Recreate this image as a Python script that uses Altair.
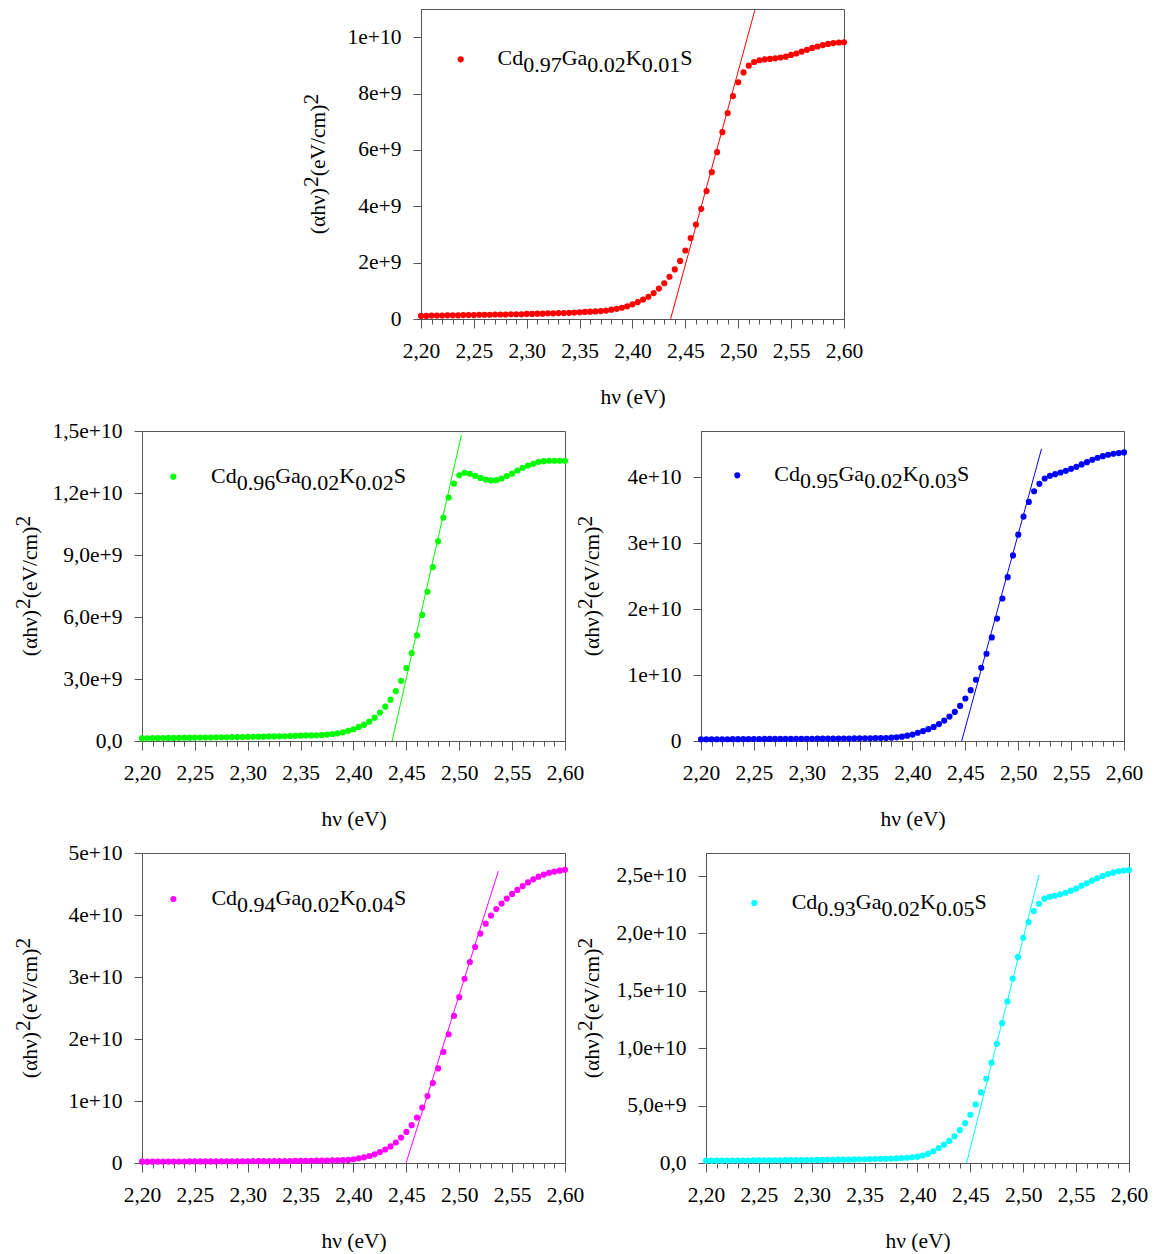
import json
import altair as alt
import pandas as pd

# ---------------- data ----------------
HV = [2.200, 2.205, 2.210, 2.215, 2.220, 2.225, 2.230, 2.235, 2.240, 2.245,
      2.250, 2.255, 2.260, 2.265, 2.270, 2.275, 2.280, 2.285, 2.290, 2.295,
      2.300, 2.305, 2.310, 2.315, 2.320, 2.325, 2.330, 2.335, 2.340, 2.345,
      2.350, 2.355, 2.360, 2.365, 2.370, 2.375, 2.380, 2.385, 2.390, 2.395,
      2.400, 2.405, 2.410, 2.415, 2.420, 2.425, 2.430, 2.435, 2.440, 2.445,
      2.450, 2.455, 2.460, 2.465, 2.470, 2.475, 2.480, 2.485, 2.490, 2.495,
      2.500, 2.505, 2.510, 2.515, 2.520, 2.525, 2.530, 2.535, 2.540, 2.545,
      2.550, 2.555, 2.560, 2.565, 2.570, 2.575, 2.580, 2.585, 2.590, 2.595,
      2.600]

# (alpha h nu)^2 in units of 1e10 (eV/cm)^2
Y1 = [0.011, 0.011, 0.012, 0.012, 0.012, 0.013, 0.013, 0.013, 0.014, 0.014,
      0.014, 0.015, 0.015, 0.015, 0.016, 0.016, 0.016, 0.017, 0.017, 0.017,
      0.018, 0.018, 0.019, 0.019, 0.020, 0.020, 0.021, 0.021, 0.022, 0.023,
      0.024, 0.025, 0.026, 0.027, 0.028, 0.030, 0.033, 0.036, 0.040, 0.045,
      0.052, 0.060, 0.069, 0.079, 0.092, 0.108, 0.127, 0.150, 0.176, 0.206,
      0.243, 0.287, 0.335, 0.391, 0.454, 0.521, 0.592, 0.663, 0.731, 0.791,
      0.840, 0.875, 0.899, 0.912, 0.918, 0.921, 0.923, 0.925, 0.928, 0.931,
      0.937, 0.942, 0.949, 0.955, 0.962, 0.967, 0.972, 0.976, 0.979, 0.981,
      0.982]
Y2 = [0.013, 0.013, 0.014, 0.014, 0.014, 0.015, 0.015, 0.015, 0.016, 0.016,
      0.016, 0.017, 0.017, 0.017, 0.018, 0.018, 0.018, 0.019, 0.019, 0.019,
      0.020, 0.020, 0.021, 0.021, 0.022, 0.022, 0.023, 0.023, 0.024, 0.025,
      0.026, 0.027, 0.027, 0.028, 0.029, 0.031, 0.034, 0.037, 0.042, 0.049,
      0.057, 0.068, 0.079, 0.094, 0.113, 0.138, 0.166, 0.200, 0.241, 0.291,
      0.353, 0.426, 0.511, 0.610, 0.722, 0.841, 0.966, 1.081, 1.178, 1.246,
      1.286, 1.298, 1.293, 1.283, 1.273, 1.265, 1.261, 1.262, 1.270, 1.282,
      1.294, 1.309, 1.322, 1.333, 1.341, 1.351, 1.354, 1.356, 1.356, 1.356,
      1.356]
Y3 = [0.025, 0.025, 0.026, 0.026, 0.027, 0.027, 0.028, 0.028, 0.029, 0.029,
      0.030, 0.030, 0.031, 0.031, 0.031, 0.032, 0.032, 0.032, 0.033, 0.033,
      0.034, 0.034, 0.035, 0.035, 0.036, 0.036, 0.037, 0.038, 0.038, 0.039,
      0.040, 0.041, 0.042, 0.043, 0.044, 0.046, 0.050, 0.056, 0.066, 0.081,
      0.097, 0.125, 0.150, 0.180, 0.214, 0.256, 0.309, 0.370, 0.441, 0.532,
      0.644, 0.771, 0.928, 1.110, 1.323, 1.571, 1.856, 2.160, 2.484, 2.814,
      3.128, 3.402, 3.625, 3.787, 3.899, 3.980, 4.020, 4.046, 4.071, 4.096,
      4.127, 4.157, 4.193, 4.228, 4.264, 4.294, 4.319, 4.340, 4.355, 4.365,
      4.375]
Y4 = [0.022, 0.022, 0.022, 0.023, 0.023, 0.023, 0.024, 0.024, 0.024, 0.025,
      0.025, 0.025, 0.026, 0.026, 0.026, 0.027, 0.027, 0.027, 0.028, 0.028,
      0.028, 0.029, 0.029, 0.030, 0.030, 0.031, 0.031, 0.032, 0.032, 0.033,
      0.034, 0.035, 0.036, 0.037, 0.038, 0.039, 0.041, 0.043, 0.046, 0.050,
      0.061, 0.075, 0.092, 0.113, 0.140, 0.178, 0.218, 0.267, 0.331, 0.410,
      0.502, 0.610, 0.733, 0.895, 1.079, 1.289, 1.526, 1.791, 2.077, 2.373,
      2.675, 2.972, 3.242, 3.484, 3.700, 3.860, 3.990, 4.095, 4.185, 4.265,
      4.340, 4.405, 4.466, 4.525, 4.575, 4.618, 4.652, 4.680, 4.700, 4.715,
      4.728]
Y5 = [0.020, 0.020, 0.020, 0.021, 0.021, 0.021, 0.022, 0.022, 0.022, 0.023,
      0.023, 0.023, 0.024, 0.024, 0.024, 0.025, 0.025, 0.025, 0.026, 0.026,
      0.026, 0.027, 0.027, 0.028, 0.028, 0.029, 0.029, 0.030, 0.031, 0.032,
      0.033, 0.034, 0.035, 0.036, 0.037, 0.038, 0.040, 0.043, 0.046, 0.050,
      0.055, 0.065, 0.080, 0.102, 0.130, 0.160, 0.192, 0.233, 0.286, 0.347,
      0.420, 0.510, 0.615, 0.734, 0.874, 1.038, 1.218, 1.407, 1.606, 1.795,
      1.961, 2.098, 2.194, 2.258, 2.302, 2.319, 2.328, 2.340, 2.354, 2.372,
      2.389, 2.415, 2.436, 2.459, 2.480, 2.500, 2.517, 2.529, 2.541, 2.547,
      2.552]
SERIES = [Y1, Y2, Y3, Y4, Y5]

# tangent (linear fit) lines: end points (hv, value in 1e10)
FIT_X = [[2.436, 2.5157], [2.4365, 2.502], [2.4465, 2.522], [2.4497, 2.537], [2.4464, 2.515]]
FIT_Y = [[0.0, 1.096], [0.0, 1.48], [0.0, 4.43], [0.0, 4.71], [0.0, 2.51]]

CD_FRAC = ["0.97", "0.96", "0.95", "0.94", "0.93"]
K_FRAC = ["0.01", "0.02", "0.03", "0.04", "0.05"]
GA_FRAC = "0.02"

Y_MAX = [1.1e10, 1.5e10, 4.7e10, 5.0e10, 2.7e10]
Y_TICKS = [
    [0, 2e9, 4e9, 6e9, 8e9, 1e10],
    [0, 3e9, 6e9, 9e9, 12e9, 15e9],
    [0, 1e10, 2e10, 3e10, 4e10],
    [0, 1e10, 2e10, 3e10, 4e10, 5e10],
    [0, 5e9, 10e9, 15e9, 20e9, 25e9],
]
Y_LABELS = [
    ["0", "2e+9", "4e+9", "6e+9", "8e+9", "1e+10"],
    ["0,0", "3,0e+9", "6,0e+9", "9,0e+9", "1,2e+10", "1,5e+10"],
    ["0", "1e+10", "2e+10", "3e+10", "4e+10"],
    ["0", "1e+10", "2e+10", "3e+10", "4e+10", "5e+10"],
    ["0,0", "5,0e+9", "1,0e+10", "1,5e+10", "2,0e+10", "2,5e+10"],
]
X_MAJOR = [2.20, 2.25, 2.30, 2.35, 2.40, 2.45, 2.50, 2.55, 2.60]
X_MINOR = HV[::2]
X_TITLE = "hν (eV)"
Y_TITLE_PIECES = [("(αhν)", 0), ("2", 1), ("(eV/cm)", 0), ("2", 1)]  # 1 = superscript

COLORS = ["#ff0000", "#00ff00", "#0000ff", "#ff00ff", "#00ffff"]

# ---------------- layout / style ----------------
W, H = 423, 310
FONT = "Liberation Serif"
FS = 21.5
LFS = 22
DOT = 38
YTITLE_D = [102, 111, 108, 111, 113]
LEGEND = [  # dot x, dot y, text start x, text baseline y  (pixels inside plot)
    (39.7, 50.3, 76.5, 55.5),
    (31.3, 45.7, 69.0, 51.5),
    (36.3, 44.3, 73.3, 50.0),
    (31.4, 46.0, 69.4, 52.0),
    (48.3, 50.0, 85.7, 56.0),
]
CHAR_W = {"C": 0.667, "d": 0.5, "G": 0.722, "a": 0.444, "K": 0.722, "S": 0.556, ".": 0.25,
          "(": 0.333, ")": 0.333, "α": 0.53, "h": 0.5, "ν": 0.5, "e": 0.444, "V": 0.722,
          "/": 0.278, "c": 0.444, "m": 0.778}
for ch in "0123456789":
    CHAR_W[ch] = 0.5


def tw(s, fs):
    return sum(CHAR_W[ch] for ch in s) * fs


ONE = pd.DataFrame({"k": [0]})


def legend_layers(i):
    dx, dy, tx, tb = LEGEND[i]
    c = COLORS[i]
    layers = [alt.Chart(ONE).mark_circle(size=DOT, opacity=1, color=c).encode(
        x=alt.value(dx), y=alt.value(dy))]
    pieces = [("Cd", 0), (CD_FRAC[i], 1), ("Ga", 0), (GA_FRAC, 1), ("K", 0), (K_FRAC[i], 1), ("S", 0)]
    x = tx
    for txt, sub in pieces:
        layers.append(alt.Chart(ONE).mark_text(
            align="left", baseline="alphabetic", font=FONT, fontSize=LFS, color="black"
        ).encode(x=alt.value(x), y=alt.value(tb + 7 * sub), text=alt.value(txt)))
        x += tw(txt, LFS)
    return layers


def ytitle_layers(i):
    total = sum(tw(t, FS) for t, _ in Y_TITLE_PIECES)
    y = H / 2 + total / 2
    layers = []
    for txt, sup in Y_TITLE_PIECES:
        layers.append(alt.Chart(ONE).mark_text(
            align="left", baseline="middle", angle=270, font=FONT, fontSize=FS, color="black"
        ).encode(x=alt.value(-YTITLE_D[i] - 7 * sup), y=alt.value(y), text=alt.value(txt)))
        y -= tw(txt, FS)
    return layers


def panel(i):
    c = COLORS[i]
    df = pd.DataFrame({"hv": HV, "val": [v * 1e10 for v in SERIES[i]]})
    fit = pd.DataFrame({"hv": FIT_X[i], "val": [v * 1e10 for v in FIT_Y[i]]})
    xs = alt.Scale(domain=[2.2, 2.6], nice=False, zero=False)
    ys = alt.Scale(domain=[0, Y_MAX[i]], nice=False, zero=True)
    lab_expr = "%s[indexof(%s, datum.value)]" % (json.dumps(Y_LABELS[i]), json.dumps(Y_TICKS[i]))
    yaxis = alt.Axis(values=Y_TICKS[i], labelExpr=lab_expr, title="",
                     tickSize=8, labelPadding=12, labelFlush=False,
                     labelOverlap=False, grid=False)
    xmajor = alt.Axis(values=X_MAJOR, labelExpr="replace(format(datum.value, '.2f'), '.', ',')",
                      title=X_TITLE, titleX=W / 2, titleY=78, titleBaseline="middle",
                      titleAlign="center", tickSize=9, labelPadding=12, labelFlush=False,
                      labelOverlap=False, labelAngle=0, orient="bottom", grid=False)
    xminor = alt.Axis(values=X_MINOR, labels=False, title="", tickSize=5, domain=False,
                      orient="bottom", grid=False)
    pts = alt.Chart(df).mark_circle(size=DOT, opacity=1, color=c).encode(
        x=alt.X("hv:Q", scale=xs, axis=xmajor),
        y=alt.Y("val:Q", scale=ys, axis=yaxis))
    line = alt.Chart(fit).mark_line(color=c, strokeWidth=1, strokeJoin="round").encode(
        x=alt.X("hv:Q", scale=xs, axis=xminor),
        y=alt.Y("val:Q", scale=ys, axis=yaxis))
    return alt.layer(pts, line, *legend_layers(i), *ytitle_layers(i)).resolve_axis(
        x="independent").properties(width=W, height=H)


spacer = alt.Chart(ONE).mark_point(opacity=0, size=1).encode(
    x=alt.value(5), y=alt.value(5)).properties(
    width=259, height=10, view=alt.ViewBackground(stroke="transparent"))

row1 = alt.hconcat(spacer, panel(0), spacing=20, bounds="flush")
row2 = alt.hconcat(panel(1), panel(2), spacing=136, bounds="flush")
row3 = alt.hconcat(panel(3), panel(4), spacing=141, bounds="flush")

chart = alt.vconcat(row1, row2, row3, spacing=11).properties(
    padding={"left": 4, "top": 0, "right": 0, "bottom": 0}
).configure_axis(
    labelFont=FONT, labelFontSize=FS, labelColor="black",
    titleFont=FONT, titleFontSize=FS, titleFontWeight="normal", titleColor="black",
    domainColor="#555555", tickColor="#555555", domainWidth=1, tickWidth=1,
).configure_view(stroke="#555555", strokeWidth=1)

chart.save("out.html", embed_options={"renderer": "svg", "actions": False})
